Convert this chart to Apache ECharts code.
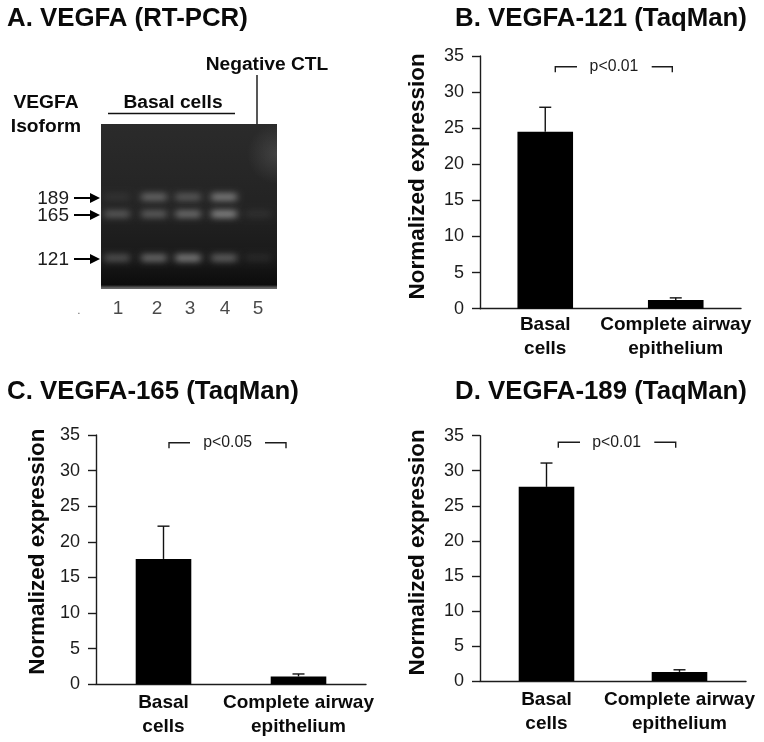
<!DOCTYPE html>
<html><head><meta charset="utf-8">
<style>html,body{margin:0;padding:0;background:#fff}#c{width:764px;height:742px}</style>
<script src="https://cdn.jsdelivr.net/npm/echarts@6/dist/echarts.min.js"></script>
</head><body><div id="c"></div>
<script>
// ---- data ----
const categories = ['Basal\ncells', 'Complete airway\nepithelium'];
const yTicks = [0, 35, 5];
const vegfa121Mean = [24.5, 1.2];
const vegfa121Upper = [27.9, 1.5];
const vegfa165Mean = [17.6, 1.1];
const vegfa165Upper = [22.2, 1.45];
const vegfa189Mean = [27.7, 1.3];
const vegfa189Upper = [31.1, 1.6];
const panelTitles = ['A. VEGFA (RT-PCR)', 'B. VEGFA-121 (TaqMan)', 'C. VEGFA-165 (TaqMan)', 'D. VEGFA-189 (TaqMan)'];
const pLabels = ['p<0.01', 'p<0.05', 'p<0.01'];
const yName = 'Normalized expression';
// gel: lane centres and band rows in gel units, band brightness 0..1 per lane
const laneNames = ['1', '2', '3', '4', '5'];
const lanePos = [16, 53, 87, 123, 157];
const labelPos = [17, 56, 89, 124, 157];
const isoforms = ['189', '165', '121'];
const isoformRow = [73, 90, 134];
const band189 = [0.06, 0.62, 0.5, 0.78, 0];
const band165 = [0.52, 0.55, 0.68, 0.85, 0.05];
const band121 = [0.48, 0.68, 0.8, 0.6, 0.03];

// ---- style ----
const FONT = '"Liberation Sans", Arial, sans-serif';
const INK = '#1c1c1c';
const OFF = 2000;

const panels = [
  {l:480, t:56, w:261, h:252.7, mean:vegfa121Mean, upper:vegfa121Upper, gap:51, shift:12, margin:4},
  {l:96, t:435, w:270, h:249.3, mean:vegfa165Mean, upper:vegfa165Upper, gap:47, shift:16, margin:6.5},
  {l:480, t:435.7, w:266, h:245.3, mean:vegfa189Mean, upper:vegfa189Upper, gap:51, shift:12, margin:6.5}
];
const brackets = [
  {x:[555.3,577,651.7,672.3], y:66.7, tx:614, ty:67},
  {x:[169,190,265,286], y:442.7, tx:227.7, ty:443},
  {x:[558.3,580,654.3,675.7], y:442.3, tx:616.7, ty:443}
];
const titlePos = [{left:7,top:6},{left:455,top:6},{left:7,top:379},{left:455,top:379}];

const grids = [], xAxes = [], yAxes = [], series = [], graphic = [];

// gel grid (index 0)
grids.push({left:101, top:124, width:176, height:165, show:true, borderWidth:0, z:0,
  backgroundColor:{type:'linear',x:0,y:0,x2:0,y2:1,colorStops:[
    {offset:0,color:'#2b2b2b'},{offset:0.45,color:'#242424'},{offset:0.8,color:'#1a1a1a'},
    {offset:0.975,color:'#0c0c0c'},{offset:0.99,color:'#555'},{offset:1,color:'#6a6a6a'}]}});
xAxes.push({type:'value', gridIndex:0, min:0, max:176, show:false});
yAxes.push({type:'value', gridIndex:0, min:0, max:165, inverse:true, show:false});

const bandData = [];
[band189, band165, band121].forEach((row, r) => row.forEach((b, i) => {
  if (b > 0) bandData.push([lanePos[i], isoformRow[r], b]);
}));
series.push({
  type:'custom', xAxisIndex:0, yAxisIndex:0, z:3, silent:true, clip:false,
  data:bandData,
  renderItem(p, api) {
    const c = api.coord([api.value(0), api.value(1)]);
    const a = api.value(2), v = Math.round(90 + 130 * a);
    const col = `rgba(${v},${v},${v},${0.3 + 0.7 * a})`;
    // only the blurred shadow of the band lands on the gel
    return {type:'rect', shape:{x:c[0]-13-OFF, y:c[1]-2.5, width:26, height:5, r:2},
      style:{fill:'#000', shadowBlur:7, shadowColor:col, shadowOffsetX:OFF}};
  }
});
series.push({
  type:'scatter', xAxisIndex:0, yAxisIndex:0, symbolSize:0, silent:true, z:3,
  data:labelPos.map((x, i) => ({value:[x, 165], name:laneNames[i]})),
  label:{show:true, position:'bottom', distance:10, formatter:'{b}', fontFamily:FONT, fontSize:19, color:INK}
});
series.push({
  type:'custom', xAxisIndex:0, yAxisIndex:0, z:4, silent:true, clip:false,
  data:isoformRow.map((y, i) => [0, y + 1, i]),
  renderItem(p, api) {
    const c = api.coord([api.value(0), api.value(1)]);
    const x = c[0]-1, y = c[1];
    return {type:'group', children:[
      {type:'line', shape:{x1:x-26, y1:y, x2:x-6, y2:y}, style:{stroke:'#000', lineWidth:2}},
      {type:'polygon', shape:{points:[[x,y],[x-10,y-5],[x-10,y+5]]}, style:{fill:'#000'}},
      {type:'text', x:x-31, y:y+1, style:{text:isoforms[api.value(2)], align:'right', verticalAlign:'middle',
        font:'19px '+FONT, fill:INK}}
    ]};
  }
});

// bar panels
panels.forEach((p, i) => {
  const g = i + 1;
  grids.push({left:p.l, top:p.t, width:p.w, height:p.h});
  xAxes.push({type:'category', gridIndex:g, data:categories,
    axisLine:{lineStyle:{color:INK, width:1.4}}, axisTick:{show:false},
    axisLabel:{interval:0, margin:p.margin, fontFamily:FONT, fontWeight:'bold', fontSize:19, lineHeight:24, color:'#0a0a0a'}});
  yAxes.push({type:'value', gridIndex:g, min:yTicks[0], max:yTicks[1], interval:yTicks[2],
    name:yName, nameLocation:'middle', nameGap:p.gap,
    nameTextStyle:{fontFamily:FONT, fontWeight:'bold', fontSize:22.5, color:'#0a0a0a', padding:[0,0,0,p.shift]},
    splitLine:{show:false},
    axisLine:{show:true, lineStyle:{color:INK, width:1.4}},
    axisTick:{show:true, length:8, lineStyle:{color:INK, width:1.4}},
    axisLabel:{margin:16, fontFamily:FONT, fontSize:18, color:INK}});
  series.push({type:'bar', xAxisIndex:g, yAxisIndex:g, data:p.mean, barWidth:55.6, silent:true, z:2,
    itemStyle:{color:'#000'}});
  series.push({type:'custom', xAxisIndex:g, yAxisIndex:g, silent:true, z:3,
    data:p.mean.map((m, k) => [k, m, p.upper[k]]),
    renderItem(_, api) {
      const a = api.coord([api.value(0), api.value(1)]);
      const b = api.coord([api.value(0), api.value(2)]);
      const st = {stroke:'#111', lineWidth:1.4};
      return {type:'group', children:[
        {type:'line', shape:{x1:a[0], y1:a[1], x2:b[0], y2:b[1]}, style:st},
        {type:'line', shape:{x1:b[0]-6, y1:b[1], x2:b[0]+6, y2:b[1]}, style:st}
      ]};
    }});
  const br = brackets[i];
  graphic.push({type:'polyline', shape:{points:[[br.x[0],br.y+5.5],[br.x[0],br.y],[br.x[1],br.y]]}, style:{fill:null, stroke:INK, lineWidth:1.4}});
  graphic.push({type:'polyline', shape:{points:[[br.x[2],br.y],[br.x[3],br.y],[br.x[3],br.y+5.5]]}, style:{fill:null, stroke:INK, lineWidth:1.4}});
  graphic.push({type:'text', x:br.tx, y:br.ty, style:{text:pLabels[i], align:'center', verticalAlign:'middle', font:'15.8px '+FONT, fill:INK}});
});

// gel annotations
const boldText = (text, x, y, size) => ({type:'text', x, y, style:{text, align:'center', verticalAlign:'middle', font:`bold ${size}px ${FONT}`, fill:'#0a0a0a'}});
graphic.push(boldText('Negative CTL', 267, 65, 19.2));
graphic.push(boldText('Basal cells', 173, 103, 19.2));
graphic.push(boldText('VEGFA', 46, 103, 19.2));
graphic.push(boldText('Isoform', 46, 127, 19.2));
graphic.push({type:'line', shape:{x1:108, y1:113.5, x2:235, y2:113.5}, style:{stroke:'#111', lineWidth:1.4}});
graphic.push({type:'line', shape:{x1:257, y1:75, x2:257, y2:124}, style:{stroke:'#111', lineWidth:1.4}});
graphic.push({type:'text', x:79, y:311, style:{text:'.', align:'center', verticalAlign:'middle', font:'10px '+FONT, fill:'#555'}});
// faint glow at the gel's right edge, above the gel background
graphic.push({type:'rect', z:1, shape:{x:247, y:124, width:30, height:60},
  style:{fill:{type:'radial',x:1,y:0.5,r:1,colorStops:[{offset:0,color:'rgba(125,125,125,0.3)'},{offset:1,color:'rgba(125,125,125,0)'}]}}});

const chart = echarts.init(document.getElementById('c'), null, {renderer:'canvas'});
chart.setOption({
  animation:false, backgroundColor:'#fff',
  title:panelTitles.map((t, i) => ({text:t, left:titlePos[i].left, top:titlePos[i].top, padding:0,
    textStyle:{fontFamily:FONT, fontWeight:'bold', fontSize:25.8, color:'#0a0a0a'}})),
  grid:grids, xAxis:xAxes, yAxis:yAxes, series, graphic
});
</script></body></html>
